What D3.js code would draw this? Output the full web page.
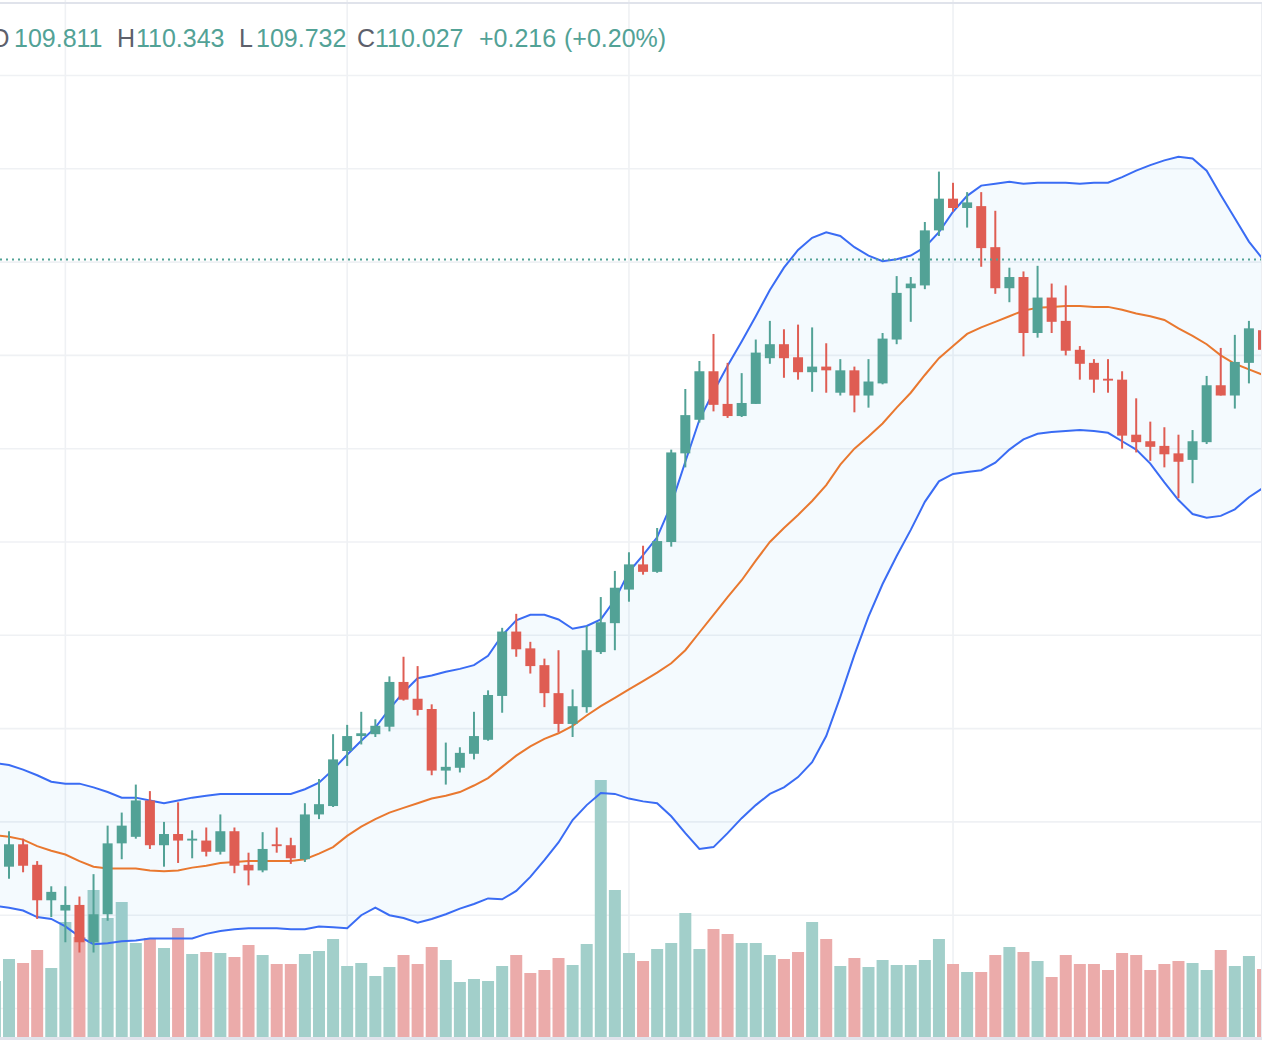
<!DOCTYPE html>
<html><head><meta charset="utf-8">
<script src="https://cdn.jsdelivr.net/npm/d3@7"></script>
<style>html,body{margin:0;padding:0;background:#fff;overflow:hidden}</style>
</head><body>
<svg id="chart" width="1262" height="1040"></svg>
<script>
// ---- data (bar index starts at -1, first bar is cut at the left edge) ----
const startIndex = -1;
const opens  = [103.55,103.52,103.76,103.54,103.16,103.05,103.11,102.71,103.01,103.77,103.84,104.23,103.75,103.87,103.80,103.80,103.68,103.90,103.54,103.48,103.76,103.75,103.60,104.08,104.17,104.76,104.92,104.94,105.02,105.50,105.32,105.21,104.55,104.58,104.73,104.88,105.35,106.04,105.86,105.68,105.38,105.05,105.23,105.82,106.13,106.49,106.76,106.68,107.00,107.95,108.31,108.83,108.48,108.35,108.48,108.97,109.12,108.98,108.82,108.88,108.60,108.84,108.57,108.70,109.17,109.72,109.75,110.34,110.68,110.58,110.60,110.16,109.72,109.84,109.24,109.62,109.37,109.06,108.92,108.75,108.74,108.15,108.08,108.03,107.95,107.88,108.07,108.68,108.57,108.92,109.27];
const highs  = [103.85,103.90,103.82,103.58,103.31,103.31,103.20,103.44,103.96,104.10,104.40,104.33,104.00,104.21,103.91,103.94,104.08,103.94,103.67,103.89,103.94,103.83,104.20,104.46,104.94,105.04,105.18,105.10,105.56,105.77,105.67,105.26,104.85,104.80,105.18,105.41,106.08,106.23,105.93,105.75,105.84,105.42,106.10,106.41,106.69,106.89,106.96,107.15,107.99,108.64,108.94,109.23,108.92,108.81,109.17,109.37,109.28,109.33,109.30,109.13,108.96,108.88,108.96,109.24,109.85,109.84,110.43,110.97,110.85,110.75,110.75,110.55,109.94,109.90,109.96,109.77,109.75,109.10,108.96,108.96,108.83,108.54,108.29,108.23,108.15,108.20,108.78,109.08,109.22,109.37,109.70];
const lows   = [103.45,103.39,103.46,102.96,102.98,102.71,102.60,102.60,102.94,103.60,103.82,103.71,103.52,103.56,103.61,103.63,103.65,103.45,103.32,103.46,103.67,103.55,103.57,104.03,104.16,104.60,104.83,104.91,104.97,105.30,105.14,104.50,104.40,104.53,104.67,104.87,105.17,105.77,105.59,105.23,104.96,104.91,105.17,105.80,105.84,106.36,106.65,106.67,106.95,107.80,108.28,108.40,108.33,108.34,108.48,108.91,108.76,108.74,108.61,108.60,108.57,108.39,108.44,108.69,109.12,109.36,109.71,110.28,110.54,110.37,109.95,109.66,109.57,108.99,109.19,109.24,109.00,108.74,108.60,108.60,108.00,107.96,107.87,107.80,107.47,107.63,108.05,108.57,108.43,108.70,108.89];
const closes = [103.78,103.76,103.53,103.16,103.25,103.11,102.71,103.01,103.77,103.96,104.23,103.75,103.87,103.80,103.82,103.68,103.90,103.53,103.48,103.71,103.74,103.61,104.08,104.19,104.67,104.92,104.95,105.03,105.50,105.31,105.20,104.55,104.59,104.74,104.92,105.36,106.04,105.85,105.67,105.38,105.05,105.24,105.84,106.14,106.51,106.76,106.68,107.01,107.96,108.36,108.83,108.47,108.35,108.49,109.03,109.12,108.97,108.82,108.88,108.84,108.84,108.57,108.72,109.18,109.67,109.77,110.34,110.68,110.58,110.64,110.15,109.72,109.84,109.24,109.62,109.36,109.05,108.91,108.74,108.73,108.14,108.07,108.02,107.94,107.86,108.08,108.68,108.57,108.93,109.29,109.06];
const volumes = [56,78,74,87,69,115,100,147,119,135,94,99,89,109,83,85,84,80,92,82,73,73,83,86,98,71,74,61,70,82,73,90,77,55,58,56,71,82,64,67,79,72,93,257,147,84,76,88,94,124,88,108,103,94,94,82,78,85,115,98,71,79,70,77,72,72,77,98,73,65,65,82,90,85,76,60,82,73,73,67,84,82,67,73,76,74,67,87,71,81,68];
const bbUpper = [104.63,104.61,104.56,104.50,104.43,104.41,104.41,104.37,104.32,104.26,104.26,104.23,104.20,104.23,104.26,104.28,104.30,104.30,104.30,104.30,104.30,104.30,104.35,104.42,104.56,104.72,104.87,105.01,105.21,105.39,105.54,105.57,105.61,105.64,105.68,105.78,106.00,106.16,106.22,106.22,106.17,106.07,106.10,106.17,106.38,106.68,106.86,107.05,107.40,107.86,108.31,108.61,108.89,109.15,109.42,109.70,109.94,110.13,110.26,110.32,110.28,110.16,110.07,110.01,110.03,110.07,110.16,110.32,110.54,110.71,110.82,110.84,110.86,110.84,110.85,110.85,110.85,110.84,110.85,110.85,110.91,110.98,111.04,111.09,111.13,111.11,110.98,110.72,110.47,110.22,110.03];
const bbBasis = [103.86,103.84,103.81,103.74,103.69,103.65,103.58,103.52,103.50,103.50,103.50,103.48,103.47,103.48,103.51,103.53,103.56,103.57,103.58,103.58,103.58,103.58,103.60,103.66,103.73,103.85,103.95,104.03,104.10,104.15,104.20,104.25,104.28,104.32,104.39,104.47,104.59,104.71,104.81,104.89,104.95,105.03,105.14,105.24,105.33,105.42,105.51,105.60,105.70,105.84,106.03,106.22,106.41,106.59,106.80,107.00,107.15,107.29,107.44,107.61,107.83,108.00,108.13,108.27,108.44,108.60,108.79,108.97,109.10,109.23,109.30,109.36,109.42,109.48,109.51,109.52,109.53,109.53,109.52,109.52,109.49,109.45,109.42,109.38,109.29,109.21,109.12,109.00,108.91,108.85,108.79];
const bbLower = [103.10,103.08,103.05,102.98,102.96,102.88,102.77,102.69,102.70,102.72,102.73,102.75,102.75,102.75,102.75,102.80,102.83,102.85,102.86,102.86,102.86,102.85,102.85,102.88,102.87,102.86,103.00,103.08,103.00,102.97,102.92,102.96,103.01,103.07,103.12,103.18,103.17,103.26,103.41,103.59,103.78,104.02,104.18,104.31,104.30,104.25,104.22,104.20,104.06,103.88,103.71,103.73,103.88,104.04,104.18,104.30,104.37,104.48,104.64,104.92,105.34,105.79,106.20,106.55,106.85,107.13,107.43,107.65,107.73,107.75,107.77,107.85,107.99,108.10,108.16,108.18,108.19,108.20,108.19,108.17,108.08,107.99,107.84,107.64,107.45,107.30,107.26,107.28,107.35,107.48,107.58];
const priceTicks = [102,103,104,105,106,107,108,109,110,111,112];
const timeTickIndex = [4, 24, 44, 67];
const lastPrice = 110.027;
const legendLabels = ["O","H","L","C"];
const legendValues = ["109.811","110.343","109.732","110.027"];
const legendChange = "+0.216";
const legendChangePct = "(+0.20%)";

// ---- styles ----
const UP = "#52a296", DOWN = "#df5d53";
const UP_VOL = "#a2cfca", DOWN_VOL = "#ebabaa";
const W = 1262, H = 1040, PANE_BOTTOM = 1037;

const bars = opens.map((o, k) => ({
  i: startIndex + k, o, h: highs[k], l: lows[k], c: closes[k],
  v: volumes[k], up: bbUpper[k], mid: bbBasis[k], lo: bbLower[k]
}));

const x = d3.scaleLinear().domain([0, 89]).range([9, 9 + 89 * 14.09]);
const y = d3.scaleLinear().domain([102, 112]).range([1008.5, 75.5]);
const yVol = d3.scaleLinear().domain([0, 300]).range([PANE_BOTTOM, PANE_BOTTOM - 300]);

const svg = d3.select("#chart");
svg.append("defs").append("clipPath").attr("id", "clip")
  .append("rect").attr("x", 0).attr("y", 0).attr("width", 1261).attr("height", PANE_BOTTOM);
const g = svg.append("g").attr("clip-path", "url(#clip)");

// grid
g.append("g").selectAll("line").data(priceTicks).join("line")
  .attr("x1", 0).attr("x2", W).attr("y1", d => y(d)).attr("y2", d => y(d))
  .attr("stroke", "#eff1f4").attr("stroke-width", 1.6);
g.append("g").selectAll("line").data(timeTickIndex).join("line")
  .attr("x1", d => x(d)).attr("x2", d => x(d)).attr("y1", 0).attr("y2", PANE_BOTTOM)
  .attr("stroke", "#eff1f4").attr("stroke-width", 1.6);

// volume
g.append("g").selectAll("rect").data(bars).join("rect")
  .attr("x", d => x(d.i) - 6).attr("width", 12)
  .attr("y", d => yVol(d.v)).attr("height", d => PANE_BOTTOM - yVol(d.v))
  .attr("fill", d => d.c >= d.o ? UP_VOL : DOWN_VOL);

// bollinger bands
g.append("path").datum(bars)
  .attr("d", d3.area().x(d => x(d.i)).y0(d => y(d.lo)).y1(d => y(d.up)))
  .attr("fill", "rgba(33,150,243,0.05)");
g.append("path").datum(bars)
  .attr("d", d3.line().x(d => x(d.i)).y(d => y(d.mid)))
  .attr("fill", "none").attr("stroke", "#e9782f").attr("stroke-width", 2);
["up", "lo"].forEach(k => {
  g.append("path").datum(bars)
    .attr("d", d3.line().x(d => x(d.i)).y(d => y(d[k])))
    .attr("fill", "none").attr("stroke", "#3a6cf4").attr("stroke-width", 2);
});

// candles
const cg = g.append("g").selectAll("g").data(bars).join("g");
cg.append("line")
  .attr("x1", d => x(d.i)).attr("x2", d => x(d.i))
  .attr("y1", d => y(d.h)).attr("y2", d => y(d.l))
  .attr("stroke", d => d.c >= d.o ? UP : DOWN).attr("stroke-width", 2);
cg.append("rect")
  .attr("x", d => x(d.i) - 5).attr("width", 10)
  .attr("y", d => y(Math.max(d.o, d.c)))
  .attr("height", d => Math.max(1.6, Math.abs(y(d.o) - y(d.c))))
  .attr("fill", d => d.c >= d.o ? UP : DOWN);

// last price line
g.append("line").attr("x1", 0).attr("x2", W)
  .attr("y1", y(lastPrice)).attr("y2", y(lastPrice))
  .attr("stroke", UP).attr("stroke-width", 2).attr("stroke-dasharray", "2 4");

// frame lines
svg.append("rect").attr("x", 0).attr("y", 2).attr("width", W).attr("height", 2).attr("fill", "#e0e3eb");
svg.append("rect").attr("x", 0).attr("y", PANE_BOTTOM).attr("width", W).attr("height", 3).attr("fill", "#e0e3eb");
svg.append("line").attr("x1", 1261.5).attr("x2", 1261.5).attr("y1", 4).attr("y2", PANE_BOTTOM)
  .attr("stroke", "#eceef2").attr("stroke-width", 1);

// legend (the leading "O" is cut at the left edge, as in the reference)
const lx = [-10, 117, 239, 357];
const vx = [14, 136, 256, 375];
const txt = svg.append("text").attr("y", 47)
  .attr("font-family", "'Liberation Sans', Arial, sans-serif").attr("font-size", 25);
legendLabels.forEach((lab, k) => {
  txt.append("tspan").attr("x", lx[k]).attr("fill", "#5d606b").text(lab);
  txt.append("tspan").attr("x", vx[k]).attr("fill", UP).text(legendValues[k]);
});
txt.append("tspan").attr("x", 479).attr("fill", UP).text(legendChange);
txt.append("tspan").attr("x", 564).attr("fill", UP).text(legendChangePct);
</script>
</body></html>
